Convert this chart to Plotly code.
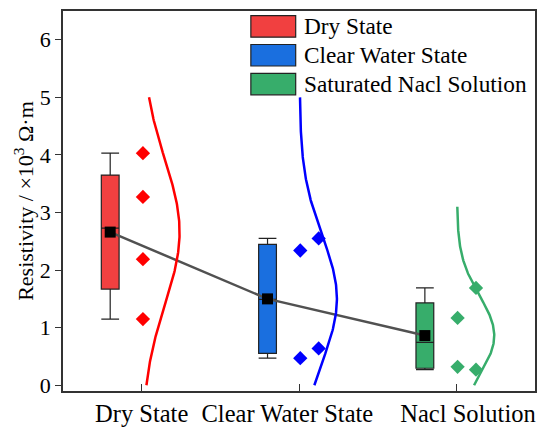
import numpy as np
import plotly.graph_objects as go

NB = "\u00a0\u00a0\u00a0\u2009"  # padding so neighbouring labels do not collide
categories = ["Dry State", "Clear Water State" + NB, NB + "Nacl Solution"]
legend_labels = ["Dry State", "Clear Water State", "Saturated Nacl Solution"]
dry = [1.15, 2.19, 3.27, 4.03]
clear = [0.47, 0.64, 2.34, 2.55]
nacl = [0.27, 0.32, 1.17, 1.69]
series = [dry, clear, nacl]
# horizontal jitter column for each point (0 = left column, 1 = right column)
jitter_cols = [[0, 0, 0, 0], [0, 1, 0, 1], [1, 0, 0, 1]]
curve_ranges = [(0.0, 5.0), (0.0, 5.0), (0.0, 3.1)]
yticks = [0, 1, 2, 3, 4, 5, 6]

box_colors = ["#F14040", "#1A6FDF", "#37AD6B"]
point_colors = ["#FF0000", "#0000FF", "#37AD6B"]
curve_colors = ["#FF0000", "#0000FF", "#37AD6B"]

FONT = "Liberation Serif"
box_off = -0.2
box_w = 0.113
pt_off = [0.008, 0.125]
curve_base = 0.005
curve_amp = 0.236

fig = go.Figure()

means = [float(np.mean(s)) for s in series]

for i, s in enumerate(series):
    fig.add_trace(go.Box(
        y=s, x0=i + box_off, width=box_w, quartilemethod="exclusive",
        fillcolor=box_colors[i], line=dict(color="#222222", width=1.2),
        whiskerwidth=1, boxpoints=False, showlegend=False, hoverinfo="skip"))

# mean line
fig.add_trace(go.Scatter(
    x=[i + box_off for i in range(3)], y=means, mode="lines",
    line=dict(color="#515151", width=2.5), showlegend=False))
fig.add_trace(go.Scatter(
    x=[i + box_off for i in range(3)], y=means, mode="markers",
    marker=dict(symbol="square", size=11, color="black"), showlegend=False))

for i, s in enumerate(series):
    xs = [i + pt_off[c] for c in jitter_cols[i]]
    fig.add_trace(go.Scatter(
        x=xs, y=s, mode="markers",
        marker=dict(symbol="diamond", size=11, color=point_colors[i]),
        showlegend=False))
    m = np.mean(s)
    sd = np.std(s, ddof=1)
    yy = np.linspace(curve_ranges[i][0], curve_ranges[i][1], 200)
    xx = i + curve_base + curve_amp * np.exp(-0.5 * ((yy - m) / sd) ** 2)
    fig.add_trace(go.Scatter(
        x=xx, y=yy, mode="lines", line=dict(color=curve_colors[i], width=2.5),
        showlegend=False))

# legend (manual)
lx0, lx1 = 0.398, 0.493
ly_top = [1 - (15.7 - 11) / 380, 1 - (44.5 - 11) / 380, 1 - (73.3 - 11) / 380]
sh = 21.5 / 380
shapes = []
annotations = []
for i in range(3):
    shapes.append(dict(type="rect", xref="paper", yref="paper",
                       x0=lx0, x1=lx1, y0=ly_top[i] - sh, y1=ly_top[i],
                       fillcolor=box_colors[i], line=dict(color="#222222", width=1.2)))
    annotations.append(dict(xref="paper", yref="paper", x=0.506, y=ly_top[i] - sh / 2,
                            text=legend_labels[i], showarrow=False, xanchor="left",
                            yanchor="middle", font=dict(family=FONT, size=23.3, color="black")))

fig.update_layout(
    width=540, height=427,
    margin=dict(l=63, r=5, t=11, b=36),
    plot_bgcolor="white", paper_bgcolor="white",
    shapes=shapes, annotations=annotations,
    font=dict(family=FONT),
    xaxis=dict(range=[-0.5, 2.5], tickvals=[0, 1, 2], ticktext=categories,
               tickangle=0, automargin=False,
               ticks="inside", ticklen=7, tickwidth=1.2, tickcolor="#333333",
               showline=True, linecolor="#333333", linewidth=1.5, mirror=True,
               showgrid=False, zeroline=False, ticklabelstandoff=0,
               tickfont=dict(family=FONT, size=24.5, color="black")),
    yaxis=dict(range=[-0.1, 6.5], tickvals=yticks, automargin=False,
               ticks="outside", ticklen=6, tickwidth=1.2, tickcolor="#333333",
               showline=True, linecolor="#333333", linewidth=1.5, mirror=True,
               showgrid=False, zeroline=False,
               tickfont=dict(family=FONT, size=22, color="black"),
               title=dict(text="Resistivity / ×10<sup>3</sup> Ω·m",
                          font=dict(family=FONT, size=22, color="black"), standoff=0)),
)

fig.write_html("out.html")
